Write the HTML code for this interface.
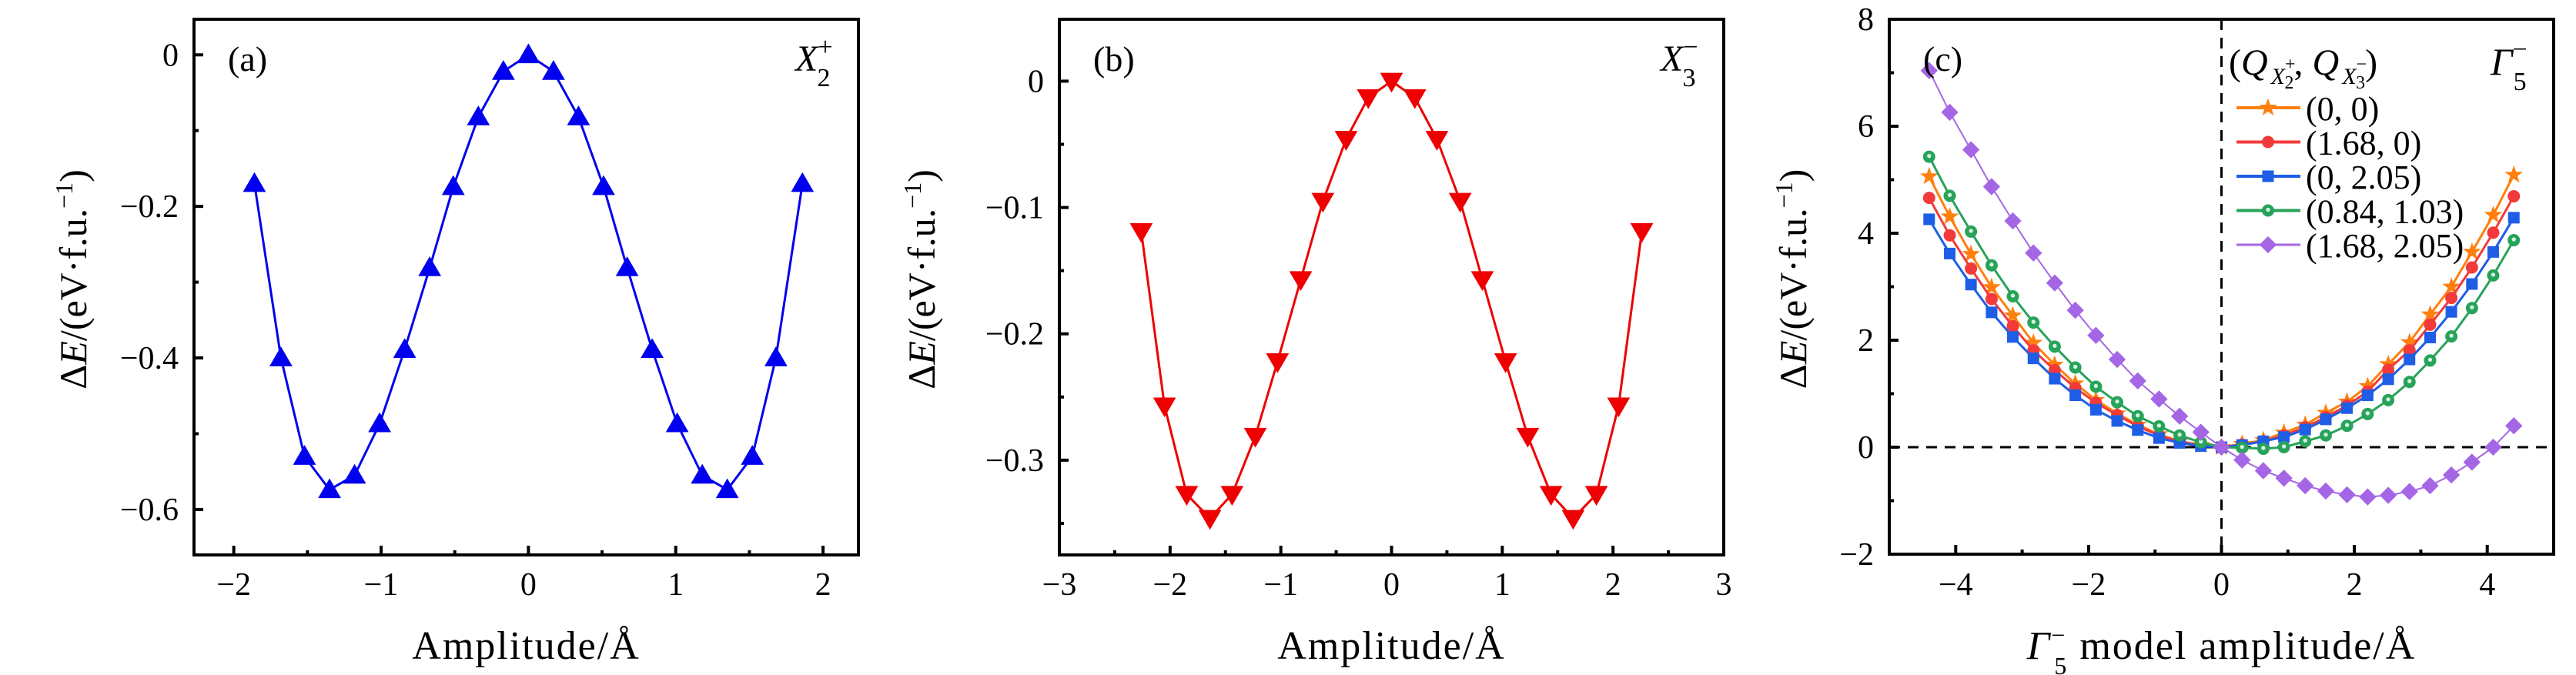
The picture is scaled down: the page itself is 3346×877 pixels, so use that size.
<!DOCTYPE html>
<html><head><meta charset="utf-8"><style>
html,body{margin:0;padding:0;background:#fff;}
svg{display:block;font-family:"Liberation Serif",serif;}
svg text{font-family:"Liberation Serif",serif;}
</style></head><body>
<svg id="fig" width="3346" height="877" viewBox="0 0 3346 877" xmlns="http://www.w3.org/2000/svg" font-family="Liberation Serif, serif"></svg>
<script>
// ---------- Panel (a) data: X2+ ----------
const aX = [-1.86,-1.68,-1.52,-1.35,-1.18,-1.01,-0.84,-0.67,-0.51,-0.34,-0.17,0,0.17,0.34,0.51,0.67,0.84,1.01,1.18,1.35,1.52,1.68,1.86];
const aY = [-0.170,-0.400,-0.530,-0.574,-0.555,-0.487,-0.389,-0.281,-0.174,-0.082,-0.022,0,-0.022,-0.082,-0.174,-0.281,-0.389,-0.487,-0.555,-0.574,-0.530,-0.400,-0.170];
const aXTicks = [-2,-1,0,1,2];
const aXTickLabels = ["\u22122","\u22121","0","1","2"];
const aYTicks = [0,-0.2,-0.4,-0.6];
const aYTickLabels = ["0","\u22120.2","\u22120.4","\u22120.6"];

// ---------- Panel (b) data: X3- ----------
const bX = [-2.26,-2.05,-1.85,-1.64,-1.44,-1.23,-1.03,-0.82,-0.62,-0.41,-0.21,0,0.21,0.41,0.62,0.82,1.03,1.23,1.44,1.64,1.85,2.05,2.26];
const bY = [-0.119,-0.257,-0.327,-0.346,-0.327,-0.281,-0.222,-0.157,-0.095,-0.046,-0.013,0,-0.013,-0.046,-0.095,-0.157,-0.222,-0.281,-0.327,-0.346,-0.327,-0.257,-0.119];
const bXTicks = [-3,-2,-1,0,1,2,3];
const bXTickLabels = ["\u22123","\u22122","\u22121","0","1","2","3"];
const bYTicks = [0,-0.1,-0.2,-0.3];
const bYTickLabels = ["0","\u22120.1","\u22120.2","\u22120.3"];

// ---------- Panel (c) data: Gamma5- ----------
const cX = [-4.40,-4.09,-3.77,-3.46,-3.14,-2.83,-2.51,-2.20,-1.89,-1.57,-1.26,-0.94,-0.63,-0.31,0,0.31,0.63,0.94,1.26,1.57,1.89,2.20,2.51,2.83,3.14,3.46,3.77,4.09,4.40];
const cOrange = [5.06,4.31,3.61,2.99,2.46,1.95,1.54,1.19,0.88,0.63,0.42,0.24,0.11,0.04,0,0.06,0.13,0.27,0.42,0.64,0.85,1.14,1.55,1.96,2.48,3.00,3.65,4.34,5.09];
const cRed = [4.66,3.96,3.34,2.77,2.26,1.81,1.44,1.11,0.83,0.60,0.39,0.22,0.10,0.04,0,0.05,0.11,0.22,0.37,0.56,0.78,1.04,1.45,1.81,2.29,2.79,3.36,4.01,4.69];
const cBlue = [4.26,3.62,3.04,2.52,2.06,1.66,1.28,0.97,0.70,0.49,0.32,0.17,0.08,0.02,0,0.04,0.11,0.19,0.33,0.52,0.73,0.97,1.27,1.64,2.05,2.53,3.05,3.65,4.29];
const cGreen = [5.43,4.70,4.03,3.40,2.82,2.33,1.88,1.49,1.13,0.84,0.58,0.39,0.22,0.09,0,-0.01,-0.03,0,0.11,0.22,0.40,0.62,0.88,1.22,1.62,2.07,2.60,3.21,3.87];
const cPurple = [7.04,6.26,5.56,4.87,4.23,3.63,3.07,2.56,2.09,1.64,1.24,0.90,0.58,0.28,0,-0.24,-0.44,-0.58,-0.72,-0.82,-0.89,-0.93,-0.90,-0.83,-0.72,-0.52,-0.28,0,0.40];
const cXTicks = [-4,-2,0,2,4];
const cXTickLabels = ["\u22124","\u22122","0","2","4"];
const cYTicks = [-2,0,2,4,6,8];
const cYTickLabels = ["\u22122","0","2","4","6","8"];
const cLegendLabels = ["(0, 0)","(1.68, 0)","(0, 2.05)","(0.84, 1.03)","(1.68, 2.05)"];

const NS = "http://www.w3.org/2000/svg";
const svg = document.getElementById('fig');
const FONT = '"Liberation Serif", serif';
function mk(tag, attrs, parent){
  const e = document.createElementNS(NS, tag);
  for (const k in attrs) e.setAttribute(k, attrs[k]);
  if (tag==='text') e.style.fontFamily = FONT;
  (parent||svg).appendChild(e);
  return e;
}
function scale(d0,d1,r0,r1){ return v => r0 + (v-d0)*(r1-r0)/(d1-d0); }

function marker(g, type, cx, cy, s, color){
  let e;
  if (type==='tri-up'){
    e = mk('polygon',{points:`${cx},${cy-s*0.62} ${cx-s*0.62},${cy+s*0.45} ${cx+s*0.62},${cy+s*0.45}`,fill:color},g);
  } else if (type==='tri-down'){
    e = mk('polygon',{points:`${cx},${cy+s*0.62} ${cx-s*0.62},${cy-s*0.45} ${cx+s*0.62},${cy-s*0.45}`,fill:color},g);
  } else if (type==='square'){
    e = mk('rect',{x:cx-s/2,y:cy-s/2,width:s,height:s,fill:color},g);
  } else if (type==='circle'){
    e = mk('circle',{cx:cx,cy:cy,r:s/2,fill:color},g);
  } else if (type==='ocircle'){
    e = mk('circle',{cx:cx,cy:cy,r:s/2,fill:color},g);
    const d = mk('circle',{cx:cx,cy:cy-1,r:s/6,fill:'#d8f0e0'},g);
    
    
  } else if (type==='diamond'){
    e = mk('polygon',{points:`${cx},${cy-s*0.62} ${cx+s*0.62},${cy} ${cx},${cy+s*0.62} ${cx-s*0.62},${cy}`,fill:color},g);
  } else if (type==='star'){
    let p=[];
    for(let i=0;i<10;i++){const r=i%2?s*0.25:s*0.62;const a=-Math.PI/2+i*Math.PI/5;p.push((cx+r*Math.cos(a)).toFixed(1)+','+(cy+r*Math.sin(a)).toFixed(1));}
    e = mk('polygon',{points:p.join(' '),fill:color},g);
  }
  
  
  return e;
}

function drawPanel(o){
  const g = mk('g',{});
  
  
  const sx = scale(o.xlim[0],o.xlim[1],o.box[0],o.box[2]);
  const sy = scale(o.ylim[0],o.ylim[1],o.box[3],o.box[1]);
  const [L,T,R,B] = o.box;
  if (o.zeroLines){
    const h = mk('line',{x1:L,x2:R,y1:sy(0),y2:sy(0),stroke:'#000','stroke-width':3,'stroke-dasharray':'14 10'},g);
     
    const v = mk('line',{x1:sx(0),x2:sx(0),y1:T,y2:B,stroke:'#000','stroke-width':3,'stroke-dasharray':'14 10'},g);
     
  }
  o.series.forEach(s=>{
    const sg = mk('g',{},g);
    
    
    const pts = s.x.map((x,i)=>sx(x).toFixed(1)+','+sy(s.y[i]).toFixed(1)).join(' ');
    const pl = mk('polyline',{points:pts,fill:'none',stroke:s.color,'stroke-width':s.lw||3},sg);
    
    
    s.x.forEach((x,i)=>marker(sg,s.marker,sx(x),sy(s.y[i]),s.size,s.color));
  });
  const fr = mk('rect',{x:L,y:T,width:R-L,height:B-T,fill:'none',stroke:'#000','stroke-width':4},g);
   
  o.xTicks.forEach((t,i)=>{
    const tl = mk('line',{x1:sx(t),x2:sx(t),y1:B,y2:B-12,stroke:'#000','stroke-width':4},g);
     
    const tx = mk('text',{x:sx(t),y:773,'font-size':42,'text-anchor':'middle'},g);
    tx.textContent = o.xTickLabels[i];
     
  });
  for (let i=0;i<o.xTicks.length-1;i++){
    const m=(o.xTicks[i]+o.xTicks[i+1])/2;
    const ml = mk('line',{x1:sx(m),x2:sx(m),y1:B,y2:B-6,stroke:'#000','stroke-width':4},g);
     
  }
  const ys=[...o.yTicks].sort((a,b)=>a-b);
  o.yTicks.forEach((t,i)=>{
    const tl = mk('line',{x1:L,x2:L+12,y1:sy(t),y2:sy(t),stroke:'#000','stroke-width':4},g);
     
    const tx = mk('text',{x:L-20,y:sy(t)+14,'font-size':42,'text-anchor':'end'},g);
    tx.textContent = o.yTickLabels[i];
     
  });
  const step = ys[1]-ys[0];
  for (let m=ys[0]-step/2; m<=o.ylim[1]; m+=step){
    if (m<o.ylim[0]) continue;
    const ml = mk('line',{x1:L,x2:L+6,y1:sy(m),y2:sy(m),stroke:'#000','stroke-width':4},g);
     
  }
  const yt = mk('text',{x:0,y:0,'font-size':50,'text-anchor':'middle',transform:`translate(${o.yTitleX},${(T+B)/2-10}) rotate(-90)`},g);
  yt.innerHTML = '\u0394<tspan font-style="italic">E</tspan>/(eV\u00b7f.u.<tspan dy="-18" font-size="32">\u22121</tspan><tspan dy="18">)</tspan>';
   
  const xt = mk('text',{x:(L+R)/2,y:856,'font-size':52,'text-anchor':'middle','letter-spacing':'2'},g);
  xt.innerHTML = o.xTitle;
   
  const pl = mk('text',{x:L+44,y:92,'font-size':46},g);
  pl.textContent = o.label;
   
  const il = mk('text',{x:R-82,y:92,'font-size':48},g);
  il.innerHTML = o.irrep;
   
  return {g,sx,sy};
}

drawPanel({name:'panel-a-x2plus', box:[252,25,1115,721], xlim:[-2.27,2.24], ylim:[-0.66,0.047],
  series:[{name:'series-x2plus',x:aX,y:aY,color:'#0000ee',marker:'tri-up',size:24,lw:3}],
  xTicks:aXTicks,xTickLabels:aXTickLabels,yTicks:aYTicks,yTickLabels:aYTickLabels,
  yTitleX:112, xTitle:'Amplitude/\u00c5', label:'(a)',
  irrep:'<tspan font-style="italic">X</tspan><tspan dx="0" dy="-20" font-size="34">+</tspan><tspan dx="-20" dy="40" font-size="34">2</tspan>'});

drawPanel({name:'panel-b-x3minus', box:[1376,25,2239,721], xlim:[-3,3], ylim:[-0.375,0.049],
  series:[{name:'series-x3minus',x:bX,y:bY,color:'#ee0000',marker:'tri-down',size:24,lw:3}],
  xTicks:bXTicks,xTickLabels:bXTickLabels,yTicks:bYTicks,yTickLabels:bYTickLabels,
  yTitleX:1214, xTitle:'Amplitude/\u00c5', label:'(b)',
  irrep:'<tspan font-style="italic">X</tspan><tspan dx="0" dy="-20" font-size="34">\u2212</tspan><tspan dx="-20" dy="40" font-size="34">3</tspan>'});

const cSeries = [
  {name:'series-0-0',x:cX,y:cOrange,color:'#ff7f0e',marker:'star',size:20,lw:3},
  {name:'series-1.68-0',x:cX,y:cRed,color:'#f23a3a',marker:'circle',size:16,lw:3},
  {name:'series-0-2.05',x:cX,y:cBlue,color:'#1e5ee6',marker:'square',size:15,lw:3},
  {name:'series-0.84-1.03',x:cX,y:cGreen,color:'#27a35a',marker:'ocircle',size:16,lw:3},
  {name:'series-1.68-2.05',x:cX,y:cPurple,color:'#a566e6',marker:'diamond',size:18,lw:2}
];
drawPanel({name:'panel-c-gamma5minus', box:[2454,25,3317,720], xlim:[-5,5], ylim:[-2,8], zeroLines:true,
  series:cSeries,
  xTicks:cXTicks,xTickLabels:cXTickLabels,yTicks:cYTicks,yTickLabels:cYTickLabels,
  yTitleX:2346, xTitle:'<tspan font-style="italic">\u0393</tspan><tspan dy="-20" font-size="32">\u2212</tspan><tspan dx="-16" dy="40" font-size="32">5</tspan><tspan dy="-20"> model amplitude/\u00c5</tspan>', label:'(c)',
  irrep:''});

const lg = mk('g',{});


const lh = mk('text',{x:2895,y:97,'font-size':48},lg);
lh.innerHTML = '(<tspan font-style="italic">Q</tspan><tspan font-size="30" font-style="italic" dx="4" dy="12">X</tspan><tspan font-size="24" dy="-18">+</tspan><tspan font-size="24" dx="-14" dy="24">2</tspan><tspan dy="-18">, </tspan><tspan font-style="italic">Q</tspan><tspan font-size="30" font-style="italic" dx="4" dy="12">X</tspan><tspan font-size="24" dy="-18">\u2212</tspan><tspan font-size="24" dx="-14" dy="24">3</tspan><tspan dy="-18">)</tspan>';
 
const gl = mk('text',{x:3235,y:97,'font-size':50},lg);
gl.innerHTML = '<tspan font-style="italic">\u0393</tspan><tspan dy="-22" font-size="34">\u2212</tspan><tspan dx="-18" dy="42" font-size="34">5</tspan>';
 
cSeries.forEach((s,i)=>{
  const y = 140 + i*44.5;
  const eg = mk('g',{},lg);
  
  
  const ln = mk('line',{x1:2905,x2:2988,y1:y,y2:y,stroke:s.color,'stroke-width':s.lw+1},eg);
   
  marker(eg,s.marker,2946,y,s.size,s.color);
  const t = mk('text',{x:2995,y:y+16,'font-size':44},eg);
  t.textContent = cLegendLabels[i];
   
});
</script>
</body></html>
